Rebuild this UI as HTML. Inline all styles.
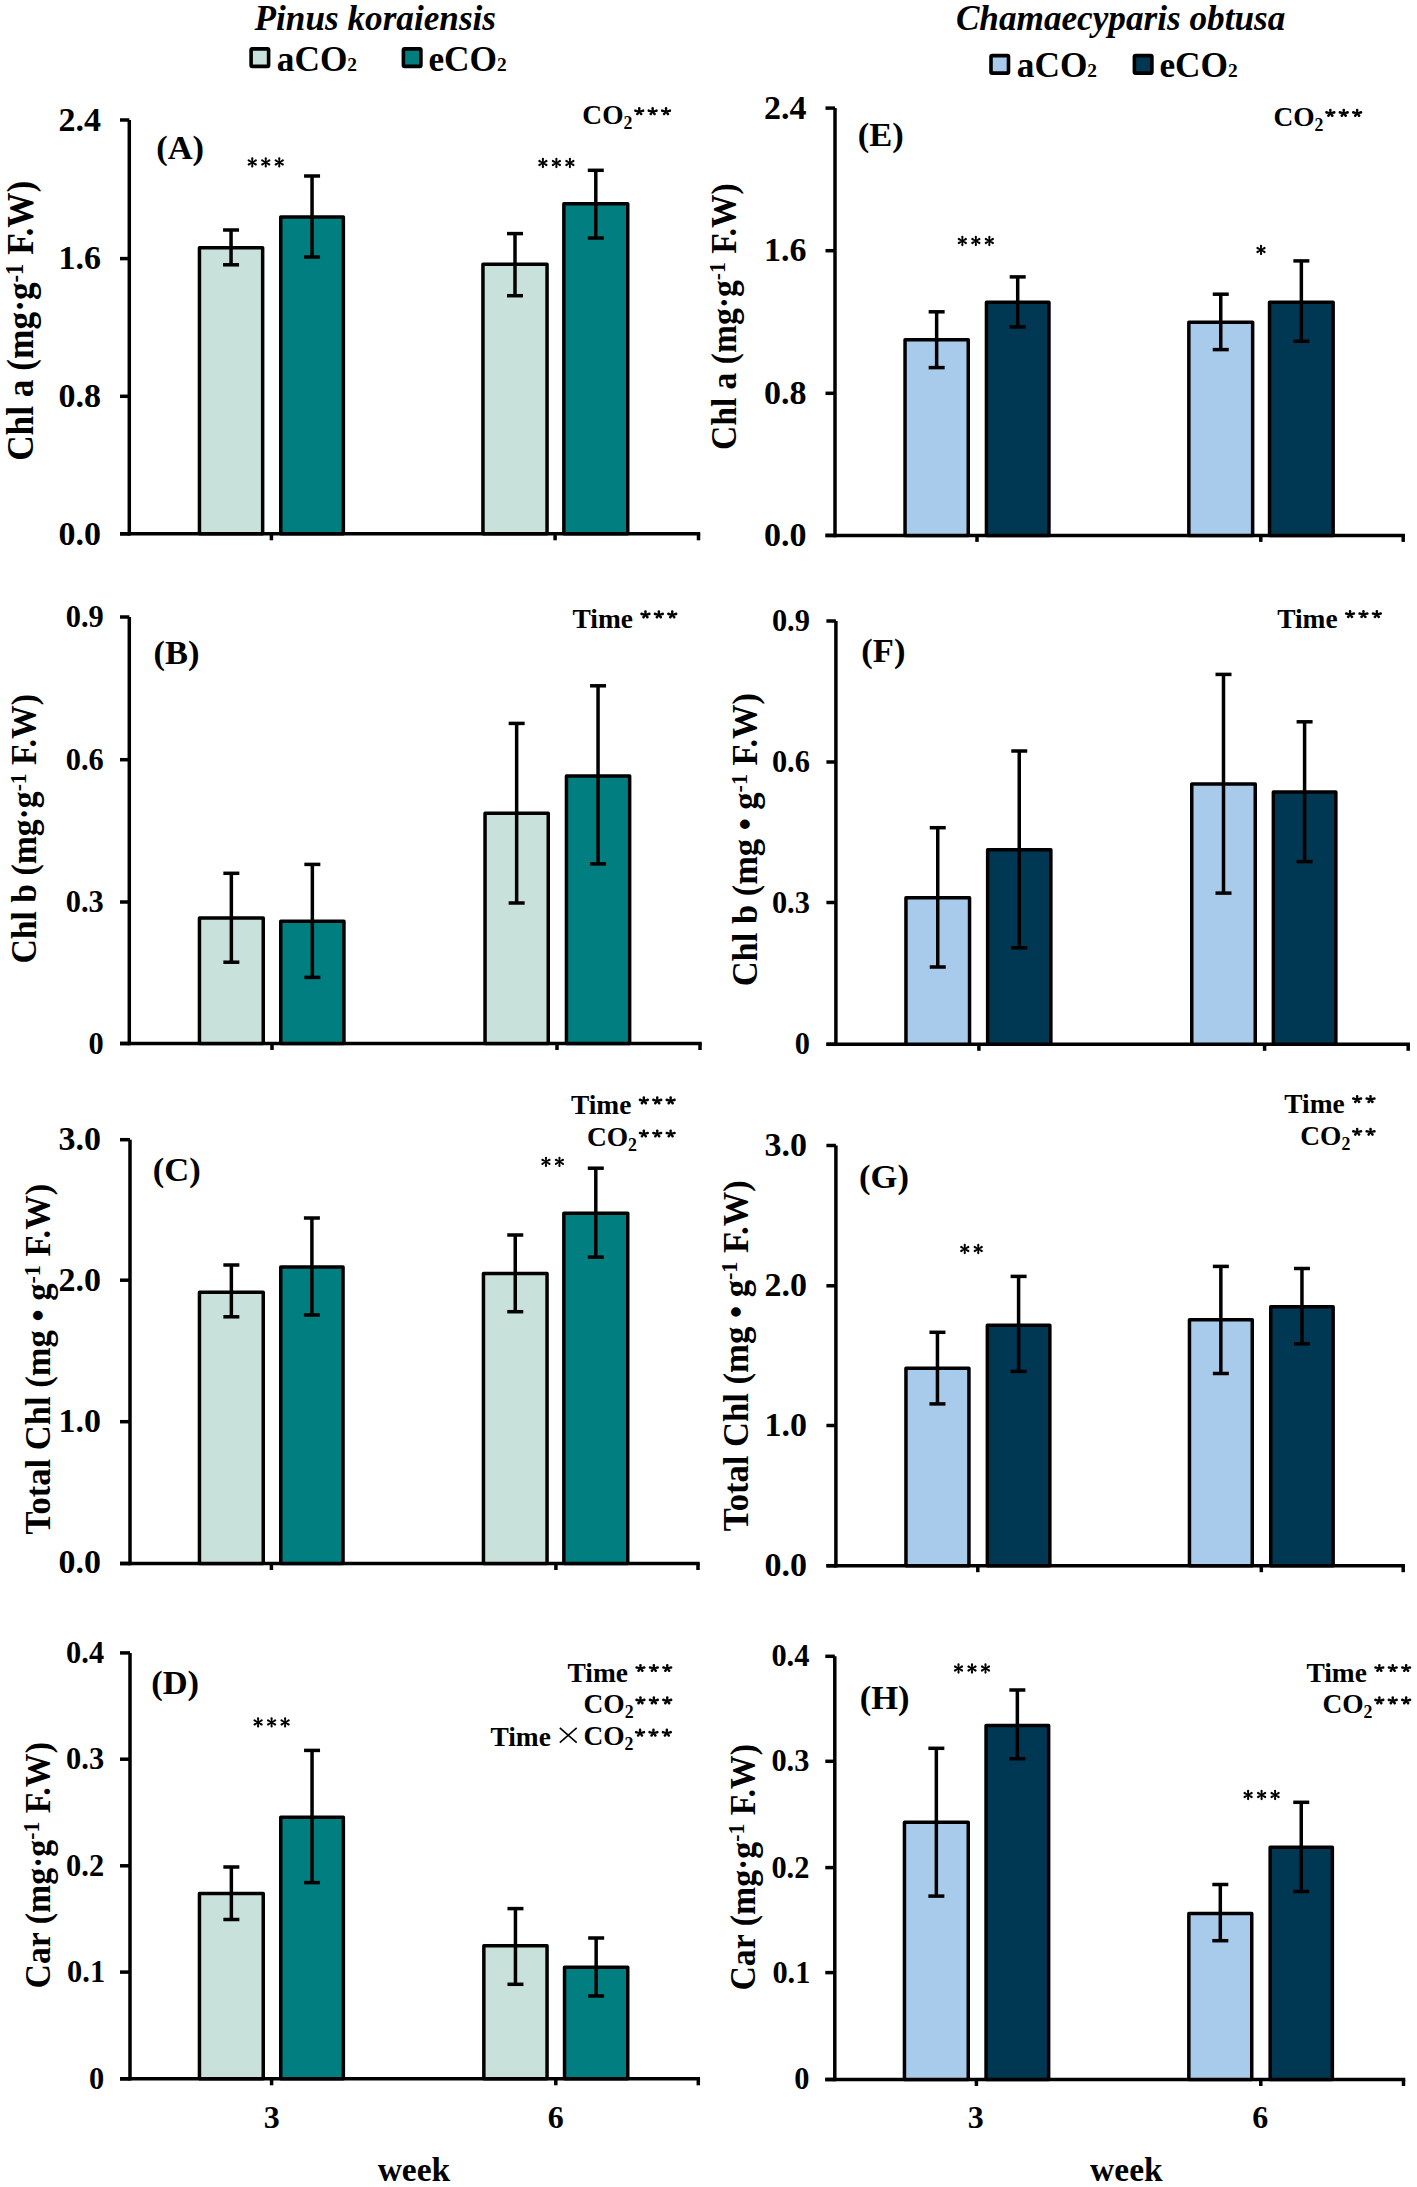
<!DOCTYPE html>
<html><head><meta charset="utf-8"><style>
html,body{margin:0;padding:0;background:#fff;}
svg{display:block;}
text{font-family:"Liberation Serif",serif;fill:#000;}
</style></head><body>
<svg width="1417" height="2187" viewBox="0 0 1417 2187">
<rect width="1417" height="2187" fill="#fff"/>
<line x1="129.30" y1="120.00" x2="129.30" y2="535.55" stroke="#000" stroke-width="3.5"/>
<line x1="120.00" y1="120.00" x2="129.30" y2="120.00" stroke="#000" stroke-width="3.5"/>
<line x1="120.00" y1="258.60" x2="129.30" y2="258.60" stroke="#000" stroke-width="3.5"/>
<line x1="120.00" y1="396.30" x2="129.30" y2="396.30" stroke="#000" stroke-width="3.5"/>
<line x1="120.00" y1="533.80" x2="129.30" y2="533.80" stroke="#000" stroke-width="3.5"/>
<line x1="120.00" y1="533.80" x2="700.25" y2="533.80" stroke="#000" stroke-width="3.5"/>
<line x1="698.50" y1="533.80" x2="698.50" y2="540.30" stroke="#000" stroke-width="3.5"/>
<line x1="271.40" y1="533.80" x2="271.40" y2="540.30" stroke="#000" stroke-width="3.5"/>
<line x1="555.10" y1="533.80" x2="555.10" y2="540.30" stroke="#000" stroke-width="3.5"/>
<rect x="199.45" y="247.65" width="63.20" height="286.15" fill="#C8E2DB" stroke="#000" stroke-width="3.5" stroke-linejoin="round"/>
<rect x="280.75" y="216.95" width="62.60" height="316.85" fill="#017F80" stroke="#000" stroke-width="3.5" stroke-linejoin="round"/>
<rect x="482.95" y="264.25" width="64.10" height="269.55" fill="#C8E2DB" stroke="#000" stroke-width="3.5" stroke-linejoin="round"/>
<rect x="563.85" y="203.75" width="63.90" height="330.05" fill="#017F80" stroke="#000" stroke-width="3.5" stroke-linejoin="round"/>
<line x1="231.05" y1="230.00" x2="231.05" y2="264.80" stroke="#000" stroke-width="3.5"/>
<line x1="223.05" y1="230.00" x2="239.05" y2="230.00" stroke="#000" stroke-width="3.5"/>
<line x1="223.05" y1="264.80" x2="239.05" y2="264.80" stroke="#000" stroke-width="3.5"/>
<line x1="312.05" y1="176.00" x2="312.05" y2="257.00" stroke="#000" stroke-width="3.5"/>
<line x1="304.05" y1="176.00" x2="320.05" y2="176.00" stroke="#000" stroke-width="3.5"/>
<line x1="304.05" y1="257.00" x2="320.05" y2="257.00" stroke="#000" stroke-width="3.5"/>
<line x1="515.00" y1="233.60" x2="515.00" y2="295.70" stroke="#000" stroke-width="3.5"/>
<line x1="507.00" y1="233.60" x2="523.00" y2="233.60" stroke="#000" stroke-width="3.5"/>
<line x1="507.00" y1="295.70" x2="523.00" y2="295.70" stroke="#000" stroke-width="3.5"/>
<line x1="595.80" y1="170.30" x2="595.80" y2="238.00" stroke="#000" stroke-width="3.5"/>
<line x1="587.80" y1="170.30" x2="603.80" y2="170.30" stroke="#000" stroke-width="3.5"/>
<line x1="587.80" y1="238.00" x2="603.80" y2="238.00" stroke="#000" stroke-width="3.5"/>
<line x1="129.30" y1="617.00" x2="129.30" y2="1045.25" stroke="#000" stroke-width="3.5"/>
<line x1="120.00" y1="617.00" x2="129.30" y2="617.00" stroke="#000" stroke-width="3.5"/>
<line x1="120.00" y1="759.70" x2="129.30" y2="759.70" stroke="#000" stroke-width="3.5"/>
<line x1="120.00" y1="902.00" x2="129.30" y2="902.00" stroke="#000" stroke-width="3.5"/>
<line x1="120.00" y1="1043.50" x2="129.30" y2="1043.50" stroke="#000" stroke-width="3.5"/>
<line x1="120.00" y1="1043.50" x2="701.75" y2="1043.50" stroke="#000" stroke-width="3.5"/>
<line x1="700.00" y1="1043.50" x2="700.00" y2="1050.00" stroke="#000" stroke-width="3.5"/>
<line x1="272.00" y1="1043.50" x2="272.00" y2="1050.00" stroke="#000" stroke-width="3.5"/>
<line x1="557.00" y1="1043.50" x2="557.00" y2="1050.00" stroke="#000" stroke-width="3.5"/>
<rect x="199.45" y="918.05" width="63.80" height="125.45" fill="#C8E2DB" stroke="#000" stroke-width="3.5" stroke-linejoin="round"/>
<rect x="280.75" y="921.25" width="63.20" height="122.25" fill="#017F80" stroke="#000" stroke-width="3.5" stroke-linejoin="round"/>
<rect x="485.05" y="813.25" width="63.20" height="230.25" fill="#C8E2DB" stroke="#000" stroke-width="3.5" stroke-linejoin="round"/>
<rect x="566.45" y="775.95" width="63.20" height="267.55" fill="#017F80" stroke="#000" stroke-width="3.5" stroke-linejoin="round"/>
<line x1="231.35" y1="873.30" x2="231.35" y2="962.20" stroke="#000" stroke-width="3.5"/>
<line x1="223.35" y1="873.30" x2="239.35" y2="873.30" stroke="#000" stroke-width="3.5"/>
<line x1="223.35" y1="962.20" x2="239.35" y2="962.20" stroke="#000" stroke-width="3.5"/>
<line x1="312.35" y1="864.40" x2="312.35" y2="977.40" stroke="#000" stroke-width="3.5"/>
<line x1="304.35" y1="864.40" x2="320.35" y2="864.40" stroke="#000" stroke-width="3.5"/>
<line x1="304.35" y1="977.40" x2="320.35" y2="977.40" stroke="#000" stroke-width="3.5"/>
<line x1="516.65" y1="723.40" x2="516.65" y2="903.00" stroke="#000" stroke-width="3.5"/>
<line x1="508.65" y1="723.40" x2="524.65" y2="723.40" stroke="#000" stroke-width="3.5"/>
<line x1="508.65" y1="903.00" x2="524.65" y2="903.00" stroke="#000" stroke-width="3.5"/>
<line x1="598.05" y1="685.80" x2="598.05" y2="863.90" stroke="#000" stroke-width="3.5"/>
<line x1="590.05" y1="685.80" x2="606.05" y2="685.80" stroke="#000" stroke-width="3.5"/>
<line x1="590.05" y1="863.90" x2="606.05" y2="863.90" stroke="#000" stroke-width="3.5"/>
<line x1="130.00" y1="1139.70" x2="130.00" y2="1565.25" stroke="#000" stroke-width="3.5"/>
<line x1="120.00" y1="1139.70" x2="130.00" y2="1139.70" stroke="#000" stroke-width="3.5"/>
<line x1="120.00" y1="1280.20" x2="130.00" y2="1280.20" stroke="#000" stroke-width="3.5"/>
<line x1="120.00" y1="1421.70" x2="130.00" y2="1421.70" stroke="#000" stroke-width="3.5"/>
<line x1="120.00" y1="1563.50" x2="130.00" y2="1563.50" stroke="#000" stroke-width="3.5"/>
<line x1="120.00" y1="1563.50" x2="699.75" y2="1563.50" stroke="#000" stroke-width="3.5"/>
<line x1="698.00" y1="1563.50" x2="698.00" y2="1570.00" stroke="#000" stroke-width="3.5"/>
<line x1="271.40" y1="1563.50" x2="271.40" y2="1570.00" stroke="#000" stroke-width="3.5"/>
<line x1="555.90" y1="1563.50" x2="555.90" y2="1570.00" stroke="#000" stroke-width="3.5"/>
<rect x="199.45" y="1292.15" width="63.80" height="271.35" fill="#C8E2DB" stroke="#000" stroke-width="3.5" stroke-linejoin="round"/>
<rect x="280.75" y="1266.95" width="62.30" height="296.55" fill="#017F80" stroke="#000" stroke-width="3.5" stroke-linejoin="round"/>
<rect x="483.45" y="1273.55" width="63.60" height="289.95" fill="#C8E2DB" stroke="#000" stroke-width="3.5" stroke-linejoin="round"/>
<rect x="563.85" y="1213.35" width="63.90" height="350.15" fill="#017F80" stroke="#000" stroke-width="3.5" stroke-linejoin="round"/>
<line x1="231.35" y1="1265.00" x2="231.35" y2="1316.80" stroke="#000" stroke-width="3.5"/>
<line x1="223.35" y1="1265.00" x2="239.35" y2="1265.00" stroke="#000" stroke-width="3.5"/>
<line x1="223.35" y1="1316.80" x2="239.35" y2="1316.80" stroke="#000" stroke-width="3.5"/>
<line x1="311.90" y1="1218.00" x2="311.90" y2="1315.00" stroke="#000" stroke-width="3.5"/>
<line x1="303.90" y1="1218.00" x2="319.90" y2="1218.00" stroke="#000" stroke-width="3.5"/>
<line x1="303.90" y1="1315.00" x2="319.90" y2="1315.00" stroke="#000" stroke-width="3.5"/>
<line x1="515.25" y1="1235.00" x2="515.25" y2="1311.70" stroke="#000" stroke-width="3.5"/>
<line x1="507.25" y1="1235.00" x2="523.25" y2="1235.00" stroke="#000" stroke-width="3.5"/>
<line x1="507.25" y1="1311.70" x2="523.25" y2="1311.70" stroke="#000" stroke-width="3.5"/>
<line x1="595.80" y1="1168.20" x2="595.80" y2="1257.10" stroke="#000" stroke-width="3.5"/>
<line x1="587.80" y1="1168.20" x2="603.80" y2="1168.20" stroke="#000" stroke-width="3.5"/>
<line x1="587.80" y1="1257.10" x2="603.80" y2="1257.10" stroke="#000" stroke-width="3.5"/>
<line x1="130.00" y1="1652.90" x2="130.00" y2="2080.55" stroke="#000" stroke-width="3.5"/>
<line x1="120.00" y1="1652.90" x2="130.00" y2="1652.90" stroke="#000" stroke-width="3.5"/>
<line x1="120.00" y1="1759.20" x2="130.00" y2="1759.20" stroke="#000" stroke-width="3.5"/>
<line x1="120.00" y1="1865.80" x2="130.00" y2="1865.80" stroke="#000" stroke-width="3.5"/>
<line x1="120.00" y1="1972.10" x2="130.00" y2="1972.10" stroke="#000" stroke-width="3.5"/>
<line x1="120.00" y1="2078.80" x2="130.00" y2="2078.80" stroke="#000" stroke-width="3.5"/>
<line x1="120.00" y1="2078.80" x2="700.05" y2="2078.80" stroke="#000" stroke-width="3.5"/>
<line x1="698.30" y1="2078.80" x2="698.30" y2="2085.30" stroke="#000" stroke-width="3.5"/>
<line x1="271.60" y1="2078.80" x2="271.60" y2="2085.30" stroke="#000" stroke-width="3.5"/>
<line x1="555.80" y1="2078.80" x2="555.80" y2="2085.30" stroke="#000" stroke-width="3.5"/>
<rect x="199.45" y="1893.45" width="63.80" height="185.35" fill="#C8E2DB" stroke="#000" stroke-width="3.5" stroke-linejoin="round"/>
<rect x="280.75" y="1817.15" width="62.60" height="261.65" fill="#017F80" stroke="#000" stroke-width="3.5" stroke-linejoin="round"/>
<rect x="483.85" y="1945.85" width="63.20" height="132.95" fill="#C8E2DB" stroke="#000" stroke-width="3.5" stroke-linejoin="round"/>
<rect x="564.55" y="1967.25" width="63.20" height="111.55" fill="#017F80" stroke="#000" stroke-width="3.5" stroke-linejoin="round"/>
<line x1="231.35" y1="1867.00" x2="231.35" y2="1919.50" stroke="#000" stroke-width="3.5"/>
<line x1="223.35" y1="1867.00" x2="239.35" y2="1867.00" stroke="#000" stroke-width="3.5"/>
<line x1="223.35" y1="1919.50" x2="239.35" y2="1919.50" stroke="#000" stroke-width="3.5"/>
<line x1="312.05" y1="1750.40" x2="312.05" y2="1882.60" stroke="#000" stroke-width="3.5"/>
<line x1="304.05" y1="1750.40" x2="320.05" y2="1750.40" stroke="#000" stroke-width="3.5"/>
<line x1="304.05" y1="1882.60" x2="320.05" y2="1882.60" stroke="#000" stroke-width="3.5"/>
<line x1="515.45" y1="1908.60" x2="515.45" y2="1984.30" stroke="#000" stroke-width="3.5"/>
<line x1="507.45" y1="1908.60" x2="523.45" y2="1908.60" stroke="#000" stroke-width="3.5"/>
<line x1="507.45" y1="1984.30" x2="523.45" y2="1984.30" stroke="#000" stroke-width="3.5"/>
<line x1="596.15" y1="1938.00" x2="596.15" y2="1996.00" stroke="#000" stroke-width="3.5"/>
<line x1="588.15" y1="1938.00" x2="604.15" y2="1938.00" stroke="#000" stroke-width="3.5"/>
<line x1="588.15" y1="1996.00" x2="604.15" y2="1996.00" stroke="#000" stroke-width="3.5"/>
<line x1="835.00" y1="108.10" x2="835.00" y2="537.15" stroke="#000" stroke-width="3.5"/>
<line x1="825.50" y1="108.10" x2="835.00" y2="108.10" stroke="#000" stroke-width="3.5"/>
<line x1="825.50" y1="250.70" x2="835.00" y2="250.70" stroke="#000" stroke-width="3.5"/>
<line x1="825.50" y1="393.30" x2="835.00" y2="393.30" stroke="#000" stroke-width="3.5"/>
<line x1="825.50" y1="535.40" x2="835.00" y2="535.40" stroke="#000" stroke-width="3.5"/>
<line x1="825.50" y1="535.40" x2="1404.95" y2="535.40" stroke="#000" stroke-width="3.5"/>
<line x1="1403.20" y1="535.40" x2="1403.20" y2="541.90" stroke="#000" stroke-width="3.5"/>
<line x1="977.00" y1="535.40" x2="977.00" y2="541.90" stroke="#000" stroke-width="3.5"/>
<line x1="1260.80" y1="535.40" x2="1260.80" y2="541.90" stroke="#000" stroke-width="3.5"/>
<rect x="905.05" y="339.75" width="63.20" height="195.65" fill="#A8CAEB" stroke="#000" stroke-width="3.5" stroke-linejoin="round"/>
<rect x="986.45" y="302.15" width="62.50" height="233.25" fill="#003753" stroke="#000" stroke-width="3.5" stroke-linejoin="round"/>
<rect x="1188.85" y="322.35" width="63.80" height="213.05" fill="#A8CAEB" stroke="#000" stroke-width="3.5" stroke-linejoin="round"/>
<rect x="1269.55" y="302.25" width="63.60" height="233.15" fill="#003753" stroke="#000" stroke-width="3.5" stroke-linejoin="round"/>
<line x1="936.65" y1="311.80" x2="936.65" y2="367.60" stroke="#000" stroke-width="3.5"/>
<line x1="928.65" y1="311.80" x2="944.65" y2="311.80" stroke="#000" stroke-width="3.5"/>
<line x1="928.65" y1="367.60" x2="944.65" y2="367.60" stroke="#000" stroke-width="3.5"/>
<line x1="1017.70" y1="276.90" x2="1017.70" y2="326.90" stroke="#000" stroke-width="3.5"/>
<line x1="1009.70" y1="276.90" x2="1025.70" y2="276.90" stroke="#000" stroke-width="3.5"/>
<line x1="1009.70" y1="326.90" x2="1025.70" y2="326.90" stroke="#000" stroke-width="3.5"/>
<line x1="1220.75" y1="294.20" x2="1220.75" y2="349.60" stroke="#000" stroke-width="3.5"/>
<line x1="1212.75" y1="294.20" x2="1228.75" y2="294.20" stroke="#000" stroke-width="3.5"/>
<line x1="1212.75" y1="349.60" x2="1228.75" y2="349.60" stroke="#000" stroke-width="3.5"/>
<line x1="1301.35" y1="260.90" x2="1301.35" y2="341.30" stroke="#000" stroke-width="3.5"/>
<line x1="1293.35" y1="260.90" x2="1309.35" y2="260.90" stroke="#000" stroke-width="3.5"/>
<line x1="1293.35" y1="341.30" x2="1309.35" y2="341.30" stroke="#000" stroke-width="3.5"/>
<line x1="835.90" y1="621.00" x2="835.90" y2="1046.05" stroke="#000" stroke-width="3.5"/>
<line x1="826.40" y1="621.00" x2="835.90" y2="621.00" stroke="#000" stroke-width="3.5"/>
<line x1="826.40" y1="762.00" x2="835.90" y2="762.00" stroke="#000" stroke-width="3.5"/>
<line x1="826.40" y1="902.50" x2="835.90" y2="902.50" stroke="#000" stroke-width="3.5"/>
<line x1="826.40" y1="1044.30" x2="835.90" y2="1044.30" stroke="#000" stroke-width="3.5"/>
<line x1="826.40" y1="1044.30" x2="1409.95" y2="1044.30" stroke="#000" stroke-width="3.5"/>
<line x1="1408.20" y1="1044.30" x2="1408.20" y2="1050.80" stroke="#000" stroke-width="3.5"/>
<line x1="978.90" y1="1044.30" x2="978.90" y2="1050.80" stroke="#000" stroke-width="3.5"/>
<line x1="1264.60" y1="1044.30" x2="1264.60" y2="1050.80" stroke="#000" stroke-width="3.5"/>
<rect x="905.95" y="897.75" width="63.60" height="146.55" fill="#A8CAEB" stroke="#000" stroke-width="3.5" stroke-linejoin="round"/>
<rect x="987.65" y="849.75" width="63.20" height="194.55" fill="#003753" stroke="#000" stroke-width="3.5" stroke-linejoin="round"/>
<rect x="1191.75" y="783.95" width="63.50" height="260.35" fill="#A8CAEB" stroke="#000" stroke-width="3.5" stroke-linejoin="round"/>
<rect x="1273.35" y="792.05" width="62.50" height="252.25" fill="#003753" stroke="#000" stroke-width="3.5" stroke-linejoin="round"/>
<line x1="937.75" y1="827.70" x2="937.75" y2="967.00" stroke="#000" stroke-width="3.5"/>
<line x1="929.75" y1="827.70" x2="945.75" y2="827.70" stroke="#000" stroke-width="3.5"/>
<line x1="929.75" y1="967.00" x2="945.75" y2="967.00" stroke="#000" stroke-width="3.5"/>
<line x1="1019.25" y1="751.00" x2="1019.25" y2="947.80" stroke="#000" stroke-width="3.5"/>
<line x1="1011.25" y1="751.00" x2="1027.25" y2="751.00" stroke="#000" stroke-width="3.5"/>
<line x1="1011.25" y1="947.80" x2="1027.25" y2="947.80" stroke="#000" stroke-width="3.5"/>
<line x1="1223.50" y1="674.40" x2="1223.50" y2="893.10" stroke="#000" stroke-width="3.5"/>
<line x1="1215.50" y1="674.40" x2="1231.50" y2="674.40" stroke="#000" stroke-width="3.5"/>
<line x1="1215.50" y1="893.10" x2="1231.50" y2="893.10" stroke="#000" stroke-width="3.5"/>
<line x1="1304.60" y1="721.80" x2="1304.60" y2="861.60" stroke="#000" stroke-width="3.5"/>
<line x1="1296.60" y1="721.80" x2="1312.60" y2="721.80" stroke="#000" stroke-width="3.5"/>
<line x1="1296.60" y1="861.60" x2="1312.60" y2="861.60" stroke="#000" stroke-width="3.5"/>
<line x1="835.90" y1="1145.50" x2="835.90" y2="1567.45" stroke="#000" stroke-width="3.5"/>
<line x1="826.40" y1="1145.50" x2="835.90" y2="1145.50" stroke="#000" stroke-width="3.5"/>
<line x1="826.40" y1="1285.80" x2="835.90" y2="1285.80" stroke="#000" stroke-width="3.5"/>
<line x1="826.40" y1="1425.50" x2="835.90" y2="1425.50" stroke="#000" stroke-width="3.5"/>
<line x1="826.40" y1="1565.70" x2="835.90" y2="1565.70" stroke="#000" stroke-width="3.5"/>
<line x1="826.40" y1="1565.70" x2="1404.95" y2="1565.70" stroke="#000" stroke-width="3.5"/>
<line x1="1403.20" y1="1565.70" x2="1403.20" y2="1572.20" stroke="#000" stroke-width="3.5"/>
<line x1="977.80" y1="1565.70" x2="977.80" y2="1572.20" stroke="#000" stroke-width="3.5"/>
<line x1="1261.30" y1="1565.70" x2="1261.30" y2="1572.20" stroke="#000" stroke-width="3.5"/>
<rect x="905.95" y="1368.35" width="63.00" height="197.35" fill="#A8CAEB" stroke="#000" stroke-width="3.5" stroke-linejoin="round"/>
<rect x="987.35" y="1325.15" width="62.50" height="240.55" fill="#003753" stroke="#000" stroke-width="3.5" stroke-linejoin="round"/>
<rect x="1189.45" y="1319.85" width="62.80" height="245.85" fill="#A8CAEB" stroke="#000" stroke-width="3.5" stroke-linejoin="round"/>
<rect x="1270.75" y="1306.75" width="62.40" height="258.95" fill="#003753" stroke="#000" stroke-width="3.5" stroke-linejoin="round"/>
<line x1="937.45" y1="1332.30" x2="937.45" y2="1403.90" stroke="#000" stroke-width="3.5"/>
<line x1="929.45" y1="1332.30" x2="945.45" y2="1332.30" stroke="#000" stroke-width="3.5"/>
<line x1="929.45" y1="1403.90" x2="945.45" y2="1403.90" stroke="#000" stroke-width="3.5"/>
<line x1="1018.60" y1="1276.40" x2="1018.60" y2="1371.40" stroke="#000" stroke-width="3.5"/>
<line x1="1010.60" y1="1276.40" x2="1026.60" y2="1276.40" stroke="#000" stroke-width="3.5"/>
<line x1="1010.60" y1="1371.40" x2="1026.60" y2="1371.40" stroke="#000" stroke-width="3.5"/>
<line x1="1220.85" y1="1266.40" x2="1220.85" y2="1373.50" stroke="#000" stroke-width="3.5"/>
<line x1="1212.85" y1="1266.40" x2="1228.85" y2="1266.40" stroke="#000" stroke-width="3.5"/>
<line x1="1212.85" y1="1373.50" x2="1228.85" y2="1373.50" stroke="#000" stroke-width="3.5"/>
<line x1="1301.95" y1="1268.50" x2="1301.95" y2="1343.80" stroke="#000" stroke-width="3.5"/>
<line x1="1293.95" y1="1268.50" x2="1309.95" y2="1268.50" stroke="#000" stroke-width="3.5"/>
<line x1="1293.95" y1="1343.80" x2="1309.95" y2="1343.80" stroke="#000" stroke-width="3.5"/>
<line x1="834.80" y1="1656.30" x2="834.80" y2="2081.25" stroke="#000" stroke-width="3.5"/>
<line x1="825.30" y1="1656.30" x2="834.80" y2="1656.30" stroke="#000" stroke-width="3.5"/>
<line x1="825.30" y1="1761.30" x2="834.80" y2="1761.30" stroke="#000" stroke-width="3.5"/>
<line x1="825.30" y1="1867.60" x2="834.80" y2="1867.60" stroke="#000" stroke-width="3.5"/>
<line x1="825.30" y1="1972.60" x2="834.80" y2="1972.60" stroke="#000" stroke-width="3.5"/>
<line x1="825.30" y1="2079.50" x2="834.80" y2="2079.50" stroke="#000" stroke-width="3.5"/>
<line x1="825.30" y1="2079.50" x2="1405.25" y2="2079.50" stroke="#000" stroke-width="3.5"/>
<line x1="1403.50" y1="2079.50" x2="1403.50" y2="2086.00" stroke="#000" stroke-width="3.5"/>
<line x1="976.40" y1="2079.50" x2="976.40" y2="2086.00" stroke="#000" stroke-width="3.5"/>
<line x1="1260.80" y1="2079.50" x2="1260.80" y2="2086.00" stroke="#000" stroke-width="3.5"/>
<rect x="904.45" y="1822.15" width="63.80" height="257.35" fill="#A8CAEB" stroke="#000" stroke-width="3.5" stroke-linejoin="round"/>
<rect x="986.05" y="1725.45" width="62.60" height="354.05" fill="#003753" stroke="#000" stroke-width="3.5" stroke-linejoin="round"/>
<rect x="1188.85" y="1913.45" width="62.90" height="166.05" fill="#A8CAEB" stroke="#000" stroke-width="3.5" stroke-linejoin="round"/>
<rect x="1270.15" y="1847.15" width="62.20" height="232.35" fill="#003753" stroke="#000" stroke-width="3.5" stroke-linejoin="round"/>
<line x1="936.35" y1="1748.30" x2="936.35" y2="1896.10" stroke="#000" stroke-width="3.5"/>
<line x1="928.35" y1="1748.30" x2="944.35" y2="1748.30" stroke="#000" stroke-width="3.5"/>
<line x1="928.35" y1="1896.10" x2="944.35" y2="1896.10" stroke="#000" stroke-width="3.5"/>
<line x1="1017.35" y1="1690.00" x2="1017.35" y2="1758.70" stroke="#000" stroke-width="3.5"/>
<line x1="1009.35" y1="1690.00" x2="1025.35" y2="1690.00" stroke="#000" stroke-width="3.5"/>
<line x1="1009.35" y1="1758.70" x2="1025.35" y2="1758.70" stroke="#000" stroke-width="3.5"/>
<line x1="1220.30" y1="1884.50" x2="1220.30" y2="1940.70" stroke="#000" stroke-width="3.5"/>
<line x1="1212.30" y1="1884.50" x2="1228.30" y2="1884.50" stroke="#000" stroke-width="3.5"/>
<line x1="1212.30" y1="1940.70" x2="1228.30" y2="1940.70" stroke="#000" stroke-width="3.5"/>
<line x1="1301.25" y1="1802.30" x2="1301.25" y2="1891.50" stroke="#000" stroke-width="3.5"/>
<line x1="1293.25" y1="1802.30" x2="1309.25" y2="1802.30" stroke="#000" stroke-width="3.5"/>
<line x1="1293.25" y1="1891.50" x2="1309.25" y2="1891.50" stroke="#000" stroke-width="3.5"/>
<rect x="251.10" y="48.90" width="17.5" height="17.5" rx="1.2" fill="#C8E2DB" stroke="#000" stroke-width="3.6"/>
<rect x="403.40" y="48.90" width="17.5" height="17.5" rx="1.2" fill="#017F80" stroke="#000" stroke-width="3.6"/>
<rect x="991.00" y="55.60" width="17.5" height="17.5" rx="1.2" fill="#A8CAEB" stroke="#000" stroke-width="3.6"/>
<rect x="1134.40" y="55.60" width="17.5" height="17.5" rx="1.2" fill="#003753" stroke="#000" stroke-width="3.6"/>
<path d="M252.85,162.40 L253.35,158.30 A1.10,1.10 0 0 0 251.15,158.30 L251.65,162.40 Z M252.55,162.92 L256.35,161.30 A1.10,1.10 0 0 0 255.25,159.40 L251.95,161.88 Z M251.95,162.92 L255.25,165.40 A1.10,1.10 0 0 0 256.35,163.50 L252.55,161.88 Z M251.65,162.40 L251.15,166.50 A1.10,1.10 0 0 0 253.35,166.50 L252.85,162.40 Z M251.95,161.88 L248.15,163.50 A1.10,1.10 0 0 0 249.25,165.40 L252.55,162.92 Z M252.55,161.88 L249.25,159.40 A1.10,1.10 0 0 0 248.15,161.30 L251.95,162.92 Z M266.35,162.40 L266.85,158.30 A1.10,1.10 0 0 0 264.65,158.30 L265.15,162.40 Z M266.05,162.92 L269.85,161.30 A1.10,1.10 0 0 0 268.75,159.40 L265.45,161.88 Z M265.45,162.92 L268.75,165.40 A1.10,1.10 0 0 0 269.85,163.50 L266.05,161.88 Z M265.15,162.40 L264.65,166.50 A1.10,1.10 0 0 0 266.85,166.50 L266.35,162.40 Z M265.45,161.88 L261.65,163.50 A1.10,1.10 0 0 0 262.75,165.40 L266.05,162.92 Z M266.05,161.88 L262.75,159.40 A1.10,1.10 0 0 0 261.65,161.30 L265.45,162.92 Z M279.85,162.40 L280.35,158.30 A1.10,1.10 0 0 0 278.15,158.30 L278.65,162.40 Z M279.55,162.92 L283.35,161.30 A1.10,1.10 0 0 0 282.25,159.40 L278.95,161.88 Z M278.95,162.92 L282.25,165.40 A1.10,1.10 0 0 0 283.35,163.50 L279.55,161.88 Z M278.65,162.40 L278.15,166.50 A1.10,1.10 0 0 0 280.35,166.50 L279.85,162.40 Z M278.95,161.88 L275.15,163.50 A1.10,1.10 0 0 0 276.25,165.40 L279.55,162.92 Z M279.55,161.88 L276.25,159.40 A1.10,1.10 0 0 0 275.15,161.30 L278.95,162.92 Z M543.50,163.00 L544.00,158.90 A1.10,1.10 0 0 0 541.80,158.90 L542.30,163.00 Z M543.20,163.52 L547.00,161.90 A1.10,1.10 0 0 0 545.90,160.00 L542.60,162.48 Z M542.60,163.52 L545.90,166.00 A1.10,1.10 0 0 0 547.00,164.10 L543.20,162.48 Z M542.30,163.00 L541.80,167.10 A1.10,1.10 0 0 0 544.00,167.10 L543.50,163.00 Z M542.60,162.48 L538.80,164.10 A1.10,1.10 0 0 0 539.90,166.00 L543.20,163.52 Z M543.20,162.48 L539.90,160.00 A1.10,1.10 0 0 0 538.80,161.90 L542.60,163.52 Z M557.00,163.00 L557.50,158.90 A1.10,1.10 0 0 0 555.30,158.90 L555.80,163.00 Z M556.70,163.52 L560.50,161.90 A1.10,1.10 0 0 0 559.40,160.00 L556.10,162.48 Z M556.10,163.52 L559.40,166.00 A1.10,1.10 0 0 0 560.50,164.10 L556.70,162.48 Z M555.80,163.00 L555.30,167.10 A1.10,1.10 0 0 0 557.50,167.10 L557.00,163.00 Z M556.10,162.48 L552.30,164.10 A1.10,1.10 0 0 0 553.40,166.00 L556.70,163.52 Z M556.70,162.48 L553.40,160.00 A1.10,1.10 0 0 0 552.30,161.90 L556.10,163.52 Z M570.50,163.00 L571.00,158.90 A1.10,1.10 0 0 0 568.80,158.90 L569.30,163.00 Z M570.20,163.52 L574.00,161.90 A1.10,1.10 0 0 0 572.90,160.00 L569.60,162.48 Z M569.60,163.52 L572.90,166.00 A1.10,1.10 0 0 0 574.00,164.10 L570.20,162.48 Z M569.30,163.00 L568.80,167.10 A1.10,1.10 0 0 0 571.00,167.10 L570.50,163.00 Z M569.60,162.48 L565.80,164.10 A1.10,1.10 0 0 0 566.90,166.00 L570.20,163.52 Z M570.20,162.48 L566.90,160.00 A1.10,1.10 0 0 0 565.80,161.90 L569.60,163.52 Z M546.55,1161.85 L547.05,1157.75 A1.10,1.10 0 0 0 544.85,1157.75 L545.35,1161.85 Z M546.25,1162.37 L550.05,1160.75 A1.10,1.10 0 0 0 548.95,1158.85 L545.65,1161.33 Z M545.65,1162.37 L548.95,1164.85 A1.10,1.10 0 0 0 550.05,1162.95 L546.25,1161.33 Z M545.35,1161.85 L544.85,1165.95 A1.10,1.10 0 0 0 547.05,1165.95 L546.55,1161.85 Z M545.65,1161.33 L541.85,1162.95 A1.10,1.10 0 0 0 542.95,1164.85 L546.25,1162.37 Z M546.25,1161.33 L542.95,1158.85 A1.10,1.10 0 0 0 541.85,1160.75 L545.65,1162.37 Z M560.05,1161.85 L560.55,1157.75 A1.10,1.10 0 0 0 558.35,1157.75 L558.85,1161.85 Z M559.75,1162.37 L563.55,1160.75 A1.10,1.10 0 0 0 562.45,1158.85 L559.15,1161.33 Z M559.15,1162.37 L562.45,1164.85 A1.10,1.10 0 0 0 563.55,1162.95 L559.75,1161.33 Z M558.85,1161.85 L558.35,1165.95 A1.10,1.10 0 0 0 560.55,1165.95 L560.05,1161.85 Z M559.15,1161.33 L555.35,1162.95 A1.10,1.10 0 0 0 556.45,1164.85 L559.75,1162.37 Z M559.75,1161.33 L556.45,1158.85 A1.10,1.10 0 0 0 555.35,1160.75 L559.15,1162.37 Z M258.70,1722.40 L259.20,1718.30 A1.10,1.10 0 0 0 257.00,1718.30 L257.50,1722.40 Z M258.40,1722.92 L262.20,1721.30 A1.10,1.10 0 0 0 261.10,1719.40 L257.80,1721.88 Z M257.80,1722.92 L261.10,1725.40 A1.10,1.10 0 0 0 262.20,1723.50 L258.40,1721.88 Z M257.50,1722.40 L257.00,1726.50 A1.10,1.10 0 0 0 259.20,1726.50 L258.70,1722.40 Z M257.80,1721.88 L254.00,1723.50 A1.10,1.10 0 0 0 255.10,1725.40 L258.40,1722.92 Z M258.40,1721.88 L255.10,1719.40 A1.10,1.10 0 0 0 254.00,1721.30 L257.80,1722.92 Z M272.20,1722.40 L272.70,1718.30 A1.10,1.10 0 0 0 270.50,1718.30 L271.00,1722.40 Z M271.90,1722.92 L275.70,1721.30 A1.10,1.10 0 0 0 274.60,1719.40 L271.30,1721.88 Z M271.30,1722.92 L274.60,1725.40 A1.10,1.10 0 0 0 275.70,1723.50 L271.90,1721.88 Z M271.00,1722.40 L270.50,1726.50 A1.10,1.10 0 0 0 272.70,1726.50 L272.20,1722.40 Z M271.30,1721.88 L267.50,1723.50 A1.10,1.10 0 0 0 268.60,1725.40 L271.90,1722.92 Z M271.90,1721.88 L268.60,1719.40 A1.10,1.10 0 0 0 267.50,1721.30 L271.30,1722.92 Z M285.70,1722.40 L286.20,1718.30 A1.10,1.10 0 0 0 284.00,1718.30 L284.50,1722.40 Z M285.40,1722.92 L289.20,1721.30 A1.10,1.10 0 0 0 288.10,1719.40 L284.80,1721.88 Z M284.80,1722.92 L288.10,1725.40 A1.10,1.10 0 0 0 289.20,1723.50 L285.40,1721.88 Z M284.50,1722.40 L284.00,1726.50 A1.10,1.10 0 0 0 286.20,1726.50 L285.70,1722.40 Z M284.80,1721.88 L281.00,1723.50 A1.10,1.10 0 0 0 282.10,1725.40 L285.40,1722.92 Z M285.40,1721.88 L282.10,1719.40 A1.10,1.10 0 0 0 281.00,1721.30 L284.80,1722.92 Z M962.95,241.00 L963.45,236.90 A1.10,1.10 0 0 0 961.25,236.90 L961.75,241.00 Z M962.65,241.52 L966.45,239.90 A1.10,1.10 0 0 0 965.35,238.00 L962.05,240.48 Z M962.05,241.52 L965.35,244.00 A1.10,1.10 0 0 0 966.45,242.10 L962.65,240.48 Z M961.75,241.00 L961.25,245.10 A1.10,1.10 0 0 0 963.45,245.10 L962.95,241.00 Z M962.05,240.48 L958.25,242.10 A1.10,1.10 0 0 0 959.35,244.00 L962.65,241.52 Z M962.65,240.48 L959.35,238.00 A1.10,1.10 0 0 0 958.25,239.90 L962.05,241.52 Z M976.45,241.00 L976.95,236.90 A1.10,1.10 0 0 0 974.75,236.90 L975.25,241.00 Z M976.15,241.52 L979.95,239.90 A1.10,1.10 0 0 0 978.85,238.00 L975.55,240.48 Z M975.55,241.52 L978.85,244.00 A1.10,1.10 0 0 0 979.95,242.10 L976.15,240.48 Z M975.25,241.00 L974.75,245.10 A1.10,1.10 0 0 0 976.95,245.10 L976.45,241.00 Z M975.55,240.48 L971.75,242.10 A1.10,1.10 0 0 0 972.85,244.00 L976.15,241.52 Z M976.15,240.48 L972.85,238.00 A1.10,1.10 0 0 0 971.75,239.90 L975.55,241.52 Z M989.95,241.00 L990.45,236.90 A1.10,1.10 0 0 0 988.25,236.90 L988.75,241.00 Z M989.65,241.52 L993.45,239.90 A1.10,1.10 0 0 0 992.35,238.00 L989.05,240.48 Z M989.05,241.52 L992.35,244.00 A1.10,1.10 0 0 0 993.45,242.10 L989.65,240.48 Z M988.75,241.00 L988.25,245.10 A1.10,1.10 0 0 0 990.45,245.10 L989.95,241.00 Z M989.05,240.48 L985.25,242.10 A1.10,1.10 0 0 0 986.35,244.00 L989.65,241.52 Z M989.65,240.48 L986.35,238.00 A1.10,1.10 0 0 0 985.25,239.90 L989.05,241.52 Z M1261.60,250.00 L1262.10,245.90 A1.10,1.10 0 0 0 1259.90,245.90 L1260.40,250.00 Z M1261.30,250.52 L1265.10,248.90 A1.10,1.10 0 0 0 1264.00,247.00 L1260.70,249.48 Z M1260.70,250.52 L1264.00,253.00 A1.10,1.10 0 0 0 1265.10,251.10 L1261.30,249.48 Z M1260.40,250.00 L1259.90,254.10 A1.10,1.10 0 0 0 1262.10,254.10 L1261.60,250.00 Z M1260.70,249.48 L1256.90,251.10 A1.10,1.10 0 0 0 1258.00,253.00 L1261.30,250.52 Z M1261.30,249.48 L1258.00,247.00 A1.10,1.10 0 0 0 1256.90,248.90 L1260.70,250.52 Z M965.35,1249.00 L965.85,1244.90 A1.10,1.10 0 0 0 963.65,1244.90 L964.15,1249.00 Z M965.05,1249.52 L968.85,1247.90 A1.10,1.10 0 0 0 967.75,1246.00 L964.45,1248.48 Z M964.45,1249.52 L967.75,1252.00 A1.10,1.10 0 0 0 968.85,1250.10 L965.05,1248.48 Z M964.15,1249.00 L963.65,1253.10 A1.10,1.10 0 0 0 965.85,1253.10 L965.35,1249.00 Z M964.45,1248.48 L960.65,1250.10 A1.10,1.10 0 0 0 961.75,1252.00 L965.05,1249.52 Z M965.05,1248.48 L961.75,1246.00 A1.10,1.10 0 0 0 960.65,1247.90 L964.45,1249.52 Z M978.85,1249.00 L979.35,1244.90 A1.10,1.10 0 0 0 977.15,1244.90 L977.65,1249.00 Z M978.55,1249.52 L982.35,1247.90 A1.10,1.10 0 0 0 981.25,1246.00 L977.95,1248.48 Z M977.95,1249.52 L981.25,1252.00 A1.10,1.10 0 0 0 982.35,1250.10 L978.55,1248.48 Z M977.65,1249.00 L977.15,1253.10 A1.10,1.10 0 0 0 979.35,1253.10 L978.85,1249.00 Z M977.95,1248.48 L974.15,1250.10 A1.10,1.10 0 0 0 975.25,1252.00 L978.55,1249.52 Z M978.55,1248.48 L975.25,1246.00 A1.10,1.10 0 0 0 974.15,1247.90 L977.95,1249.52 Z M959.10,1668.50 L959.60,1664.40 A1.10,1.10 0 0 0 957.40,1664.40 L957.90,1668.50 Z M958.80,1669.02 L962.60,1667.40 A1.10,1.10 0 0 0 961.50,1665.50 L958.20,1667.98 Z M958.20,1669.02 L961.50,1671.50 A1.10,1.10 0 0 0 962.60,1669.60 L958.80,1667.98 Z M957.90,1668.50 L957.40,1672.60 A1.10,1.10 0 0 0 959.60,1672.60 L959.10,1668.50 Z M958.20,1667.98 L954.40,1669.60 A1.10,1.10 0 0 0 955.50,1671.50 L958.80,1669.02 Z M958.80,1667.98 L955.50,1665.50 A1.10,1.10 0 0 0 954.40,1667.40 L958.20,1669.02 Z M972.60,1668.50 L973.10,1664.40 A1.10,1.10 0 0 0 970.90,1664.40 L971.40,1668.50 Z M972.30,1669.02 L976.10,1667.40 A1.10,1.10 0 0 0 975.00,1665.50 L971.70,1667.98 Z M971.70,1669.02 L975.00,1671.50 A1.10,1.10 0 0 0 976.10,1669.60 L972.30,1667.98 Z M971.40,1668.50 L970.90,1672.60 A1.10,1.10 0 0 0 973.10,1672.60 L972.60,1668.50 Z M971.70,1667.98 L967.90,1669.60 A1.10,1.10 0 0 0 969.00,1671.50 L972.30,1669.02 Z M972.30,1667.98 L969.00,1665.50 A1.10,1.10 0 0 0 967.90,1667.40 L971.70,1669.02 Z M986.10,1668.50 L986.60,1664.40 A1.10,1.10 0 0 0 984.40,1664.40 L984.90,1668.50 Z M985.80,1669.02 L989.60,1667.40 A1.10,1.10 0 0 0 988.50,1665.50 L985.20,1667.98 Z M985.20,1669.02 L988.50,1671.50 A1.10,1.10 0 0 0 989.60,1669.60 L985.80,1667.98 Z M984.90,1668.50 L984.40,1672.60 A1.10,1.10 0 0 0 986.60,1672.60 L986.10,1668.50 Z M985.20,1667.98 L981.40,1669.60 A1.10,1.10 0 0 0 982.50,1671.50 L985.80,1669.02 Z M985.80,1667.98 L982.50,1665.50 A1.10,1.10 0 0 0 981.40,1667.40 L985.20,1669.02 Z M1248.70,1795.00 L1249.20,1790.90 A1.10,1.10 0 0 0 1247.00,1790.90 L1247.50,1795.00 Z M1248.40,1795.52 L1252.20,1793.90 A1.10,1.10 0 0 0 1251.10,1792.00 L1247.80,1794.48 Z M1247.80,1795.52 L1251.10,1798.00 A1.10,1.10 0 0 0 1252.20,1796.10 L1248.40,1794.48 Z M1247.50,1795.00 L1247.00,1799.10 A1.10,1.10 0 0 0 1249.20,1799.10 L1248.70,1795.00 Z M1247.80,1794.48 L1244.00,1796.10 A1.10,1.10 0 0 0 1245.10,1798.00 L1248.40,1795.52 Z M1248.40,1794.48 L1245.10,1792.00 A1.10,1.10 0 0 0 1244.00,1793.90 L1247.80,1795.52 Z M1262.20,1795.00 L1262.70,1790.90 A1.10,1.10 0 0 0 1260.50,1790.90 L1261.00,1795.00 Z M1261.90,1795.52 L1265.70,1793.90 A1.10,1.10 0 0 0 1264.60,1792.00 L1261.30,1794.48 Z M1261.30,1795.52 L1264.60,1798.00 A1.10,1.10 0 0 0 1265.70,1796.10 L1261.90,1794.48 Z M1261.00,1795.00 L1260.50,1799.10 A1.10,1.10 0 0 0 1262.70,1799.10 L1262.20,1795.00 Z M1261.30,1794.48 L1257.50,1796.10 A1.10,1.10 0 0 0 1258.60,1798.00 L1261.90,1795.52 Z M1261.90,1794.48 L1258.60,1792.00 A1.10,1.10 0 0 0 1257.50,1793.90 L1261.30,1795.52 Z M1275.70,1795.00 L1276.20,1790.90 A1.10,1.10 0 0 0 1274.00,1790.90 L1274.50,1795.00 Z M1275.40,1795.52 L1279.20,1793.90 A1.10,1.10 0 0 0 1278.10,1792.00 L1274.80,1794.48 Z M1274.80,1795.52 L1278.10,1798.00 A1.10,1.10 0 0 0 1279.20,1796.10 L1275.40,1794.48 Z M1274.50,1795.00 L1274.00,1799.10 A1.10,1.10 0 0 0 1276.20,1799.10 L1275.70,1795.00 Z M1274.80,1794.48 L1271.00,1796.10 A1.10,1.10 0 0 0 1272.10,1798.00 L1275.40,1795.52 Z M1275.40,1794.48 L1272.10,1792.00 A1.10,1.10 0 0 0 1271.00,1793.90 L1274.80,1795.52 Z M666.85,111.50 L667.35,108.40 A1.30,1.30 0 0 0 664.75,108.40 L665.25,111.50 Z M666.22,112.28 L670.23,111.94 A1.30,1.30 0 0 0 669.69,109.40 L665.88,110.72 Z M666.22,110.72 L662.41,109.40 A1.30,1.30 0 0 0 661.87,111.94 L665.88,112.28 Z M665.42,111.99 L666.93,114.74 A1.30,1.30 0 0 0 668.98,113.14 L666.68,111.01 Z M665.42,111.01 L663.12,113.14 A1.30,1.30 0 0 0 665.17,114.74 L666.68,111.99 Z M653.45,111.50 L653.95,108.40 A1.30,1.30 0 0 0 651.35,108.40 L651.85,111.50 Z M652.82,112.28 L656.83,111.94 A1.30,1.30 0 0 0 656.29,109.40 L652.48,110.72 Z M652.82,110.72 L649.01,109.40 A1.30,1.30 0 0 0 648.47,111.94 L652.48,112.28 Z M652.02,111.99 L653.53,114.74 A1.30,1.30 0 0 0 655.58,113.14 L653.28,111.01 Z M652.02,111.01 L649.72,113.14 A1.30,1.30 0 0 0 651.77,114.74 L653.28,111.99 Z M640.05,111.50 L640.55,108.40 A1.30,1.30 0 0 0 637.95,108.40 L638.45,111.50 Z M639.42,112.28 L643.43,111.94 A1.30,1.30 0 0 0 642.89,109.40 L639.08,110.72 Z M639.42,110.72 L635.61,109.40 A1.30,1.30 0 0 0 635.07,111.94 L639.08,112.28 Z M638.62,111.99 L640.13,114.74 A1.30,1.30 0 0 0 642.18,113.14 L639.88,111.01 Z M638.62,111.01 L636.32,113.14 A1.30,1.30 0 0 0 638.37,114.74 L639.88,111.99 Z M673.05,614.70 L673.55,611.60 A1.30,1.30 0 0 0 670.95,611.60 L671.45,614.70 Z M672.42,615.48 L676.43,615.14 A1.30,1.30 0 0 0 675.89,612.60 L672.08,613.92 Z M672.42,613.92 L668.61,612.60 A1.30,1.30 0 0 0 668.07,615.14 L672.08,615.48 Z M671.62,615.19 L673.13,617.94 A1.30,1.30 0 0 0 675.18,616.34 L672.88,614.21 Z M671.62,614.21 L669.32,616.34 A1.30,1.30 0 0 0 671.37,617.94 L672.88,615.19 Z M659.65,614.70 L660.15,611.60 A1.30,1.30 0 0 0 657.55,611.60 L658.05,614.70 Z M659.02,615.48 L663.03,615.14 A1.30,1.30 0 0 0 662.49,612.60 L658.68,613.92 Z M659.02,613.92 L655.21,612.60 A1.30,1.30 0 0 0 654.67,615.14 L658.68,615.48 Z M658.22,615.19 L659.73,617.94 A1.30,1.30 0 0 0 661.78,616.34 L659.48,614.21 Z M658.22,614.21 L655.92,616.34 A1.30,1.30 0 0 0 657.97,617.94 L659.48,615.19 Z M646.25,614.70 L646.75,611.60 A1.30,1.30 0 0 0 644.15,611.60 L644.65,614.70 Z M645.62,615.48 L649.63,615.14 A1.30,1.30 0 0 0 649.09,612.60 L645.28,613.92 Z M645.62,613.92 L641.81,612.60 A1.30,1.30 0 0 0 641.27,615.14 L645.28,615.48 Z M644.82,615.19 L646.33,617.94 A1.30,1.30 0 0 0 648.38,616.34 L646.08,614.21 Z M644.82,614.21 L642.52,616.34 A1.30,1.30 0 0 0 644.57,617.94 L646.08,615.19 Z M671.45,1100.70 L671.95,1097.60 A1.30,1.30 0 0 0 669.35,1097.60 L669.85,1100.70 Z M670.82,1101.48 L674.83,1101.14 A1.30,1.30 0 0 0 674.29,1098.60 L670.48,1099.92 Z M670.82,1099.92 L667.01,1098.60 A1.30,1.30 0 0 0 666.47,1101.14 L670.48,1101.48 Z M670.02,1101.19 L671.53,1103.94 A1.30,1.30 0 0 0 673.58,1102.34 L671.28,1100.21 Z M670.02,1100.21 L667.72,1102.34 A1.30,1.30 0 0 0 669.77,1103.94 L671.28,1101.19 Z M658.05,1100.70 L658.55,1097.60 A1.30,1.30 0 0 0 655.95,1097.60 L656.45,1100.70 Z M657.42,1101.48 L661.43,1101.14 A1.30,1.30 0 0 0 660.89,1098.60 L657.08,1099.92 Z M657.42,1099.92 L653.61,1098.60 A1.30,1.30 0 0 0 653.07,1101.14 L657.08,1101.48 Z M656.62,1101.19 L658.13,1103.94 A1.30,1.30 0 0 0 660.18,1102.34 L657.88,1100.21 Z M656.62,1100.21 L654.32,1102.34 A1.30,1.30 0 0 0 656.37,1103.94 L657.88,1101.19 Z M644.65,1100.70 L645.15,1097.60 A1.30,1.30 0 0 0 642.55,1097.60 L643.05,1100.70 Z M644.02,1101.48 L648.03,1101.14 A1.30,1.30 0 0 0 647.49,1098.60 L643.68,1099.92 Z M644.02,1099.92 L640.21,1098.60 A1.30,1.30 0 0 0 639.67,1101.14 L643.68,1101.48 Z M643.22,1101.19 L644.73,1103.94 A1.30,1.30 0 0 0 646.78,1102.34 L644.48,1100.21 Z M643.22,1100.21 L640.92,1102.34 A1.30,1.30 0 0 0 642.97,1103.94 L644.48,1101.19 Z M671.45,1133.80 L671.95,1130.70 A1.30,1.30 0 0 0 669.35,1130.70 L669.85,1133.80 Z M670.82,1134.58 L674.83,1134.24 A1.30,1.30 0 0 0 674.29,1131.70 L670.48,1133.02 Z M670.82,1133.02 L667.01,1131.70 A1.30,1.30 0 0 0 666.47,1134.24 L670.48,1134.58 Z M670.02,1134.29 L671.53,1137.04 A1.30,1.30 0 0 0 673.58,1135.44 L671.28,1133.31 Z M670.02,1133.31 L667.72,1135.44 A1.30,1.30 0 0 0 669.77,1137.04 L671.28,1134.29 Z M658.05,1133.80 L658.55,1130.70 A1.30,1.30 0 0 0 655.95,1130.70 L656.45,1133.80 Z M657.42,1134.58 L661.43,1134.24 A1.30,1.30 0 0 0 660.89,1131.70 L657.08,1133.02 Z M657.42,1133.02 L653.61,1131.70 A1.30,1.30 0 0 0 653.07,1134.24 L657.08,1134.58 Z M656.62,1134.29 L658.13,1137.04 A1.30,1.30 0 0 0 660.18,1135.44 L657.88,1133.31 Z M656.62,1133.31 L654.32,1135.44 A1.30,1.30 0 0 0 656.37,1137.04 L657.88,1134.29 Z M644.65,1133.80 L645.15,1130.70 A1.30,1.30 0 0 0 642.55,1130.70 L643.05,1133.80 Z M644.02,1134.58 L648.03,1134.24 A1.30,1.30 0 0 0 647.49,1131.70 L643.68,1133.02 Z M644.02,1133.02 L640.21,1131.70 A1.30,1.30 0 0 0 639.67,1134.24 L643.68,1134.58 Z M643.22,1134.29 L644.73,1137.04 A1.30,1.30 0 0 0 646.78,1135.44 L644.48,1133.31 Z M643.22,1133.31 L640.92,1135.44 A1.30,1.30 0 0 0 642.97,1137.04 L644.48,1134.29 Z M668.05,1668.30 L668.55,1665.20 A1.30,1.30 0 0 0 665.95,1665.20 L666.45,1668.30 Z M667.42,1669.08 L671.43,1668.74 A1.30,1.30 0 0 0 670.89,1666.20 L667.08,1667.52 Z M667.42,1667.52 L663.61,1666.20 A1.30,1.30 0 0 0 663.07,1668.74 L667.08,1669.08 Z M666.62,1668.79 L668.13,1671.54 A1.30,1.30 0 0 0 670.18,1669.94 L667.88,1667.81 Z M666.62,1667.81 L664.32,1669.94 A1.30,1.30 0 0 0 666.37,1671.54 L667.88,1668.79 Z M654.65,1668.30 L655.15,1665.20 A1.30,1.30 0 0 0 652.55,1665.20 L653.05,1668.30 Z M654.02,1669.08 L658.03,1668.74 A1.30,1.30 0 0 0 657.49,1666.20 L653.68,1667.52 Z M654.02,1667.52 L650.21,1666.20 A1.30,1.30 0 0 0 649.67,1668.74 L653.68,1669.08 Z M653.22,1668.79 L654.73,1671.54 A1.30,1.30 0 0 0 656.78,1669.94 L654.48,1667.81 Z M653.22,1667.81 L650.92,1669.94 A1.30,1.30 0 0 0 652.97,1671.54 L654.48,1668.79 Z M641.25,1668.30 L641.75,1665.20 A1.30,1.30 0 0 0 639.15,1665.20 L639.65,1668.30 Z M640.62,1669.08 L644.63,1668.74 A1.30,1.30 0 0 0 644.09,1666.20 L640.28,1667.52 Z M640.62,1667.52 L636.81,1666.20 A1.30,1.30 0 0 0 636.27,1668.74 L640.28,1669.08 Z M639.82,1668.79 L641.33,1671.54 A1.30,1.30 0 0 0 643.38,1669.94 L641.08,1667.81 Z M639.82,1667.81 L637.52,1669.94 A1.30,1.30 0 0 0 639.57,1671.54 L641.08,1668.79 Z M668.05,1700.70 L668.55,1697.60 A1.30,1.30 0 0 0 665.95,1697.60 L666.45,1700.70 Z M667.42,1701.48 L671.43,1701.14 A1.30,1.30 0 0 0 670.89,1698.60 L667.08,1699.92 Z M667.42,1699.92 L663.61,1698.60 A1.30,1.30 0 0 0 663.07,1701.14 L667.08,1701.48 Z M666.62,1701.19 L668.13,1703.94 A1.30,1.30 0 0 0 670.18,1702.34 L667.88,1700.21 Z M666.62,1700.21 L664.32,1702.34 A1.30,1.30 0 0 0 666.37,1703.94 L667.88,1701.19 Z M654.65,1700.70 L655.15,1697.60 A1.30,1.30 0 0 0 652.55,1697.60 L653.05,1700.70 Z M654.02,1701.48 L658.03,1701.14 A1.30,1.30 0 0 0 657.49,1698.60 L653.68,1699.92 Z M654.02,1699.92 L650.21,1698.60 A1.30,1.30 0 0 0 649.67,1701.14 L653.68,1701.48 Z M653.22,1701.19 L654.73,1703.94 A1.30,1.30 0 0 0 656.78,1702.34 L654.48,1700.21 Z M653.22,1700.21 L650.92,1702.34 A1.30,1.30 0 0 0 652.97,1703.94 L654.48,1701.19 Z M641.25,1700.70 L641.75,1697.60 A1.30,1.30 0 0 0 639.15,1697.60 L639.65,1700.70 Z M640.62,1701.48 L644.63,1701.14 A1.30,1.30 0 0 0 644.09,1698.60 L640.28,1699.92 Z M640.62,1699.92 L636.81,1698.60 A1.30,1.30 0 0 0 636.27,1701.14 L640.28,1701.48 Z M639.82,1701.19 L641.33,1703.94 A1.30,1.30 0 0 0 643.38,1702.34 L641.08,1700.21 Z M639.82,1700.21 L637.52,1702.34 A1.30,1.30 0 0 0 639.57,1703.94 L641.08,1701.19 Z M1357.95,113.20 L1358.45,110.10 A1.30,1.30 0 0 0 1355.85,110.10 L1356.35,113.20 Z M1357.32,113.98 L1361.33,113.64 A1.30,1.30 0 0 0 1360.79,111.10 L1356.98,112.42 Z M1357.32,112.42 L1353.51,111.10 A1.30,1.30 0 0 0 1352.97,113.64 L1356.98,113.98 Z M1356.52,113.69 L1358.03,116.44 A1.30,1.30 0 0 0 1360.08,114.84 L1357.78,112.71 Z M1356.52,112.71 L1354.22,114.84 A1.30,1.30 0 0 0 1356.27,116.44 L1357.78,113.69 Z M1344.55,113.20 L1345.05,110.10 A1.30,1.30 0 0 0 1342.45,110.10 L1342.95,113.20 Z M1343.92,113.98 L1347.93,113.64 A1.30,1.30 0 0 0 1347.39,111.10 L1343.58,112.42 Z M1343.92,112.42 L1340.11,111.10 A1.30,1.30 0 0 0 1339.57,113.64 L1343.58,113.98 Z M1343.12,113.69 L1344.63,116.44 A1.30,1.30 0 0 0 1346.68,114.84 L1344.38,112.71 Z M1343.12,112.71 L1340.82,114.84 A1.30,1.30 0 0 0 1342.87,116.44 L1344.38,113.69 Z M1331.15,113.20 L1331.65,110.10 A1.30,1.30 0 0 0 1329.05,110.10 L1329.55,113.20 Z M1330.52,113.98 L1334.53,113.64 A1.30,1.30 0 0 0 1333.99,111.10 L1330.18,112.42 Z M1330.52,112.42 L1326.71,111.10 A1.30,1.30 0 0 0 1326.17,113.64 L1330.18,113.98 Z M1329.72,113.69 L1331.23,116.44 A1.30,1.30 0 0 0 1333.28,114.84 L1330.98,112.71 Z M1329.72,112.71 L1327.42,114.84 A1.30,1.30 0 0 0 1329.47,116.44 L1330.98,113.69 Z M1377.65,614.40 L1378.15,611.30 A1.30,1.30 0 0 0 1375.55,611.30 L1376.05,614.40 Z M1377.02,615.18 L1381.03,614.84 A1.30,1.30 0 0 0 1380.49,612.30 L1376.68,613.62 Z M1377.02,613.62 L1373.21,612.30 A1.30,1.30 0 0 0 1372.67,614.84 L1376.68,615.18 Z M1376.22,614.89 L1377.73,617.64 A1.30,1.30 0 0 0 1379.78,616.04 L1377.48,613.91 Z M1376.22,613.91 L1373.92,616.04 A1.30,1.30 0 0 0 1375.97,617.64 L1377.48,614.89 Z M1364.25,614.40 L1364.75,611.30 A1.30,1.30 0 0 0 1362.15,611.30 L1362.65,614.40 Z M1363.62,615.18 L1367.63,614.84 A1.30,1.30 0 0 0 1367.09,612.30 L1363.28,613.62 Z M1363.62,613.62 L1359.81,612.30 A1.30,1.30 0 0 0 1359.27,614.84 L1363.28,615.18 Z M1362.82,614.89 L1364.33,617.64 A1.30,1.30 0 0 0 1366.38,616.04 L1364.08,613.91 Z M1362.82,613.91 L1360.52,616.04 A1.30,1.30 0 0 0 1362.57,617.64 L1364.08,614.89 Z M1350.85,614.40 L1351.35,611.30 A1.30,1.30 0 0 0 1348.75,611.30 L1349.25,614.40 Z M1350.22,615.18 L1354.23,614.84 A1.30,1.30 0 0 0 1353.69,612.30 L1349.88,613.62 Z M1350.22,613.62 L1346.41,612.30 A1.30,1.30 0 0 0 1345.87,614.84 L1349.88,615.18 Z M1349.42,614.89 L1350.93,617.64 A1.30,1.30 0 0 0 1352.98,616.04 L1350.68,613.91 Z M1349.42,613.91 L1347.12,616.04 A1.30,1.30 0 0 0 1349.17,617.64 L1350.68,614.89 Z M1371.35,1099.40 L1371.85,1096.30 A1.30,1.30 0 0 0 1369.25,1096.30 L1369.75,1099.40 Z M1370.72,1100.18 L1374.73,1099.84 A1.30,1.30 0 0 0 1374.19,1097.30 L1370.38,1098.62 Z M1370.72,1098.62 L1366.91,1097.30 A1.30,1.30 0 0 0 1366.37,1099.84 L1370.38,1100.18 Z M1369.92,1099.89 L1371.43,1102.64 A1.30,1.30 0 0 0 1373.48,1101.04 L1371.18,1098.91 Z M1369.92,1098.91 L1367.62,1101.04 A1.30,1.30 0 0 0 1369.67,1102.64 L1371.18,1099.89 Z M1357.95,1099.40 L1358.45,1096.30 A1.30,1.30 0 0 0 1355.85,1096.30 L1356.35,1099.40 Z M1357.32,1100.18 L1361.33,1099.84 A1.30,1.30 0 0 0 1360.79,1097.30 L1356.98,1098.62 Z M1357.32,1098.62 L1353.51,1097.30 A1.30,1.30 0 0 0 1352.97,1099.84 L1356.98,1100.18 Z M1356.52,1099.89 L1358.03,1102.64 A1.30,1.30 0 0 0 1360.08,1101.04 L1357.78,1098.91 Z M1356.52,1098.91 L1354.22,1101.04 A1.30,1.30 0 0 0 1356.27,1102.64 L1357.78,1099.89 Z M1371.35,1132.10 L1371.85,1129.00 A1.30,1.30 0 0 0 1369.25,1129.00 L1369.75,1132.10 Z M1370.72,1132.88 L1374.73,1132.54 A1.30,1.30 0 0 0 1374.19,1130.00 L1370.38,1131.32 Z M1370.72,1131.32 L1366.91,1130.00 A1.30,1.30 0 0 0 1366.37,1132.54 L1370.38,1132.88 Z M1369.92,1132.59 L1371.43,1135.34 A1.30,1.30 0 0 0 1373.48,1133.74 L1371.18,1131.61 Z M1369.92,1131.61 L1367.62,1133.74 A1.30,1.30 0 0 0 1369.67,1135.34 L1371.18,1132.59 Z M1357.95,1132.10 L1358.45,1129.00 A1.30,1.30 0 0 0 1355.85,1129.00 L1356.35,1132.10 Z M1357.32,1132.88 L1361.33,1132.54 A1.30,1.30 0 0 0 1360.79,1130.00 L1356.98,1131.32 Z M1357.32,1131.32 L1353.51,1130.00 A1.30,1.30 0 0 0 1352.97,1132.54 L1356.98,1132.88 Z M1356.52,1132.59 L1358.03,1135.34 A1.30,1.30 0 0 0 1360.08,1133.74 L1357.78,1131.61 Z M1356.52,1131.61 L1354.22,1133.74 A1.30,1.30 0 0 0 1356.27,1135.34 L1357.78,1132.59 Z M1406.95,1668.30 L1407.45,1665.20 A1.30,1.30 0 0 0 1404.85,1665.20 L1405.35,1668.30 Z M1406.32,1669.08 L1410.33,1668.74 A1.30,1.30 0 0 0 1409.79,1666.20 L1405.98,1667.52 Z M1406.32,1667.52 L1402.51,1666.20 A1.30,1.30 0 0 0 1401.97,1668.74 L1405.98,1669.08 Z M1405.52,1668.79 L1407.03,1671.54 A1.30,1.30 0 0 0 1409.08,1669.94 L1406.78,1667.81 Z M1405.52,1667.81 L1403.22,1669.94 A1.30,1.30 0 0 0 1405.27,1671.54 L1406.78,1668.79 Z M1393.55,1668.30 L1394.05,1665.20 A1.30,1.30 0 0 0 1391.45,1665.20 L1391.95,1668.30 Z M1392.92,1669.08 L1396.93,1668.74 A1.30,1.30 0 0 0 1396.39,1666.20 L1392.58,1667.52 Z M1392.92,1667.52 L1389.11,1666.20 A1.30,1.30 0 0 0 1388.57,1668.74 L1392.58,1669.08 Z M1392.12,1668.79 L1393.63,1671.54 A1.30,1.30 0 0 0 1395.68,1669.94 L1393.38,1667.81 Z M1392.12,1667.81 L1389.82,1669.94 A1.30,1.30 0 0 0 1391.87,1671.54 L1393.38,1668.79 Z M1380.15,1668.30 L1380.65,1665.20 A1.30,1.30 0 0 0 1378.05,1665.20 L1378.55,1668.30 Z M1379.52,1669.08 L1383.53,1668.74 A1.30,1.30 0 0 0 1382.99,1666.20 L1379.18,1667.52 Z M1379.52,1667.52 L1375.71,1666.20 A1.30,1.30 0 0 0 1375.17,1668.74 L1379.18,1669.08 Z M1378.72,1668.79 L1380.23,1671.54 A1.30,1.30 0 0 0 1382.28,1669.94 L1379.98,1667.81 Z M1378.72,1667.81 L1376.42,1669.94 A1.30,1.30 0 0 0 1378.47,1671.54 L1379.98,1668.79 Z M1406.95,1700.70 L1407.45,1697.60 A1.30,1.30 0 0 0 1404.85,1697.60 L1405.35,1700.70 Z M1406.32,1701.48 L1410.33,1701.14 A1.30,1.30 0 0 0 1409.79,1698.60 L1405.98,1699.92 Z M1406.32,1699.92 L1402.51,1698.60 A1.30,1.30 0 0 0 1401.97,1701.14 L1405.98,1701.48 Z M1405.52,1701.19 L1407.03,1703.94 A1.30,1.30 0 0 0 1409.08,1702.34 L1406.78,1700.21 Z M1405.52,1700.21 L1403.22,1702.34 A1.30,1.30 0 0 0 1405.27,1703.94 L1406.78,1701.19 Z M1393.55,1700.70 L1394.05,1697.60 A1.30,1.30 0 0 0 1391.45,1697.60 L1391.95,1700.70 Z M1392.92,1701.48 L1396.93,1701.14 A1.30,1.30 0 0 0 1396.39,1698.60 L1392.58,1699.92 Z M1392.92,1699.92 L1389.11,1698.60 A1.30,1.30 0 0 0 1388.57,1701.14 L1392.58,1701.48 Z M1392.12,1701.19 L1393.63,1703.94 A1.30,1.30 0 0 0 1395.68,1702.34 L1393.38,1700.21 Z M1392.12,1700.21 L1389.82,1702.34 A1.30,1.30 0 0 0 1391.87,1703.94 L1393.38,1701.19 Z M1380.15,1700.70 L1380.65,1697.60 A1.30,1.30 0 0 0 1378.05,1697.60 L1378.55,1700.70 Z M1379.52,1701.48 L1383.53,1701.14 A1.30,1.30 0 0 0 1382.99,1698.60 L1379.18,1699.92 Z M1379.52,1699.92 L1375.71,1698.60 A1.30,1.30 0 0 0 1375.17,1701.14 L1379.18,1701.48 Z M1378.72,1701.19 L1380.23,1703.94 A1.30,1.30 0 0 0 1382.28,1702.34 L1379.98,1700.21 Z M1378.72,1700.21 L1376.42,1702.34 A1.30,1.30 0 0 0 1378.47,1703.94 L1379.98,1701.19 Z M667.65,1733.00 L668.15,1729.90 A1.30,1.30 0 0 0 665.55,1729.90 L666.05,1733.00 Z M667.02,1733.78 L671.03,1733.44 A1.30,1.30 0 0 0 670.49,1730.90 L666.68,1732.22 Z M667.02,1732.22 L663.21,1730.90 A1.30,1.30 0 0 0 662.67,1733.44 L666.68,1733.78 Z M666.22,1733.49 L667.73,1736.24 A1.30,1.30 0 0 0 669.78,1734.64 L667.48,1732.51 Z M666.22,1732.51 L663.92,1734.64 A1.30,1.30 0 0 0 665.97,1736.24 L667.48,1733.49 Z M654.25,1733.00 L654.75,1729.90 A1.30,1.30 0 0 0 652.15,1729.90 L652.65,1733.00 Z M653.62,1733.78 L657.63,1733.44 A1.30,1.30 0 0 0 657.09,1730.90 L653.28,1732.22 Z M653.62,1732.22 L649.81,1730.90 A1.30,1.30 0 0 0 649.27,1733.44 L653.28,1733.78 Z M652.82,1733.49 L654.33,1736.24 A1.30,1.30 0 0 0 656.38,1734.64 L654.08,1732.51 Z M652.82,1732.51 L650.52,1734.64 A1.30,1.30 0 0 0 652.57,1736.24 L654.08,1733.49 Z M640.85,1733.00 L641.35,1729.90 A1.30,1.30 0 0 0 638.75,1729.90 L639.25,1733.00 Z M640.22,1733.78 L644.23,1733.44 A1.30,1.30 0 0 0 643.69,1730.90 L639.88,1732.22 Z M640.22,1732.22 L636.41,1730.90 A1.30,1.30 0 0 0 635.87,1733.44 L639.88,1733.78 Z M639.42,1733.49 L640.93,1736.24 A1.30,1.30 0 0 0 642.98,1734.64 L640.68,1732.51 Z M639.42,1732.51 L637.12,1734.64 A1.30,1.30 0 0 0 639.17,1736.24 L640.68,1733.49 Z" fill="#000"/>
<path d="M559.80,1727.80 L576.70,1742.60 M576.70,1727.80 L559.80,1742.60" stroke="#000" stroke-width="1.6" fill="none"/>
<text transform="translate(101.00,130.50)" font-size="34.00" text-anchor="end" font-weight="bold" font-style="normal">2.4</text>
<text transform="translate(101.00,269.10)" font-size="34.00" text-anchor="end" font-weight="bold" font-style="normal">1.6</text>
<text transform="translate(101.00,406.80)" font-size="34.00" text-anchor="end" font-weight="bold" font-style="normal">0.8</text>
<text transform="translate(101.00,544.50)" font-size="34.00" text-anchor="end" font-weight="bold" font-style="normal">0.0</text>
<text transform="translate(103.80,627.00) scale(0.9750,1)" font-size="31.20" text-anchor="end" font-weight="bold" font-style="normal">0.9</text>
<text transform="translate(103.80,769.70) scale(0.9750,1)" font-size="31.20" text-anchor="end" font-weight="bold" font-style="normal">0.6</text>
<text transform="translate(103.80,912.00) scale(0.9750,1)" font-size="31.20" text-anchor="end" font-weight="bold" font-style="normal">0.3</text>
<text transform="translate(103.80,1053.50) scale(0.9750,1)" font-size="31.20" text-anchor="end" font-weight="bold" font-style="normal">0</text>
<text transform="translate(101.10,1150.20)" font-size="34.00" text-anchor="end" font-weight="bold" font-style="normal">3.0</text>
<text transform="translate(101.10,1290.70)" font-size="34.00" text-anchor="end" font-weight="bold" font-style="normal">2.0</text>
<text transform="translate(101.10,1432.20)" font-size="34.00" text-anchor="end" font-weight="bold" font-style="normal">1.0</text>
<text transform="translate(101.10,1573.20)" font-size="34.00" text-anchor="end" font-weight="bold" font-style="normal">0.0</text>
<text transform="translate(104.10,1662.90) scale(0.9750,1)" font-size="31.20" text-anchor="end" font-weight="bold" font-style="normal">0.4</text>
<text transform="translate(104.10,1769.20) scale(0.9750,1)" font-size="31.20" text-anchor="end" font-weight="bold" font-style="normal">0.3</text>
<text transform="translate(104.10,1875.80) scale(0.9750,1)" font-size="31.20" text-anchor="end" font-weight="bold" font-style="normal">0.2</text>
<text transform="translate(105.10,1982.10) scale(0.9750,1)" font-size="31.20" text-anchor="end" font-weight="bold" font-style="normal">0.1</text>
<text transform="translate(104.10,2088.90) scale(0.9750,1)" font-size="31.20" text-anchor="end" font-weight="bold" font-style="normal">0</text>
<text transform="translate(806.50,118.60)" font-size="34.00" text-anchor="end" font-weight="bold" font-style="normal">2.4</text>
<text transform="translate(806.50,261.20)" font-size="34.00" text-anchor="end" font-weight="bold" font-style="normal">1.6</text>
<text transform="translate(806.50,403.80)" font-size="34.00" text-anchor="end" font-weight="bold" font-style="normal">0.8</text>
<text transform="translate(806.50,546.10)" font-size="34.00" text-anchor="end" font-weight="bold" font-style="normal">0.0</text>
<text transform="translate(809.90,631.00) scale(0.9750,1)" font-size="31.20" text-anchor="end" font-weight="bold" font-style="normal">0.9</text>
<text transform="translate(809.90,772.00) scale(0.9750,1)" font-size="31.20" text-anchor="end" font-weight="bold" font-style="normal">0.6</text>
<text transform="translate(809.90,912.50) scale(0.9750,1)" font-size="31.20" text-anchor="end" font-weight="bold" font-style="normal">0.3</text>
<text transform="translate(809.90,1053.50) scale(0.9750,1)" font-size="31.20" text-anchor="end" font-weight="bold" font-style="normal">0</text>
<text transform="translate(806.90,1156.00)" font-size="34.00" text-anchor="end" font-weight="bold" font-style="normal">3.0</text>
<text transform="translate(806.90,1296.30)" font-size="34.00" text-anchor="end" font-weight="bold" font-style="normal">2.0</text>
<text transform="translate(806.90,1436.00)" font-size="34.00" text-anchor="end" font-weight="bold" font-style="normal">1.0</text>
<text transform="translate(806.90,1575.80)" font-size="34.00" text-anchor="end" font-weight="bold" font-style="normal">0.0</text>
<text transform="translate(809.40,1666.30) scale(0.9750,1)" font-size="31.20" text-anchor="end" font-weight="bold" font-style="normal">0.4</text>
<text transform="translate(809.40,1771.30) scale(0.9750,1)" font-size="31.20" text-anchor="end" font-weight="bold" font-style="normal">0.3</text>
<text transform="translate(809.40,1877.60) scale(0.9750,1)" font-size="31.20" text-anchor="end" font-weight="bold" font-style="normal">0.2</text>
<text transform="translate(810.40,1982.60) scale(0.9750,1)" font-size="31.20" text-anchor="end" font-weight="bold" font-style="normal">0.1</text>
<text transform="translate(809.40,2088.90) scale(0.9750,1)" font-size="31.20" text-anchor="end" font-weight="bold" font-style="normal">0</text>
<text transform="translate(180.15,159.00)" font-size="34.50" text-anchor="middle" font-weight="bold" font-style="normal">(A)</text>
<text transform="translate(176.50,663.50)" font-size="34.50" text-anchor="middle" font-weight="bold" font-style="normal">(B)</text>
<text transform="translate(176.70,1180.60)" font-size="34.50" text-anchor="middle" font-weight="bold" font-style="normal">(C)</text>
<text transform="translate(175.15,1693.75)" font-size="34.50" text-anchor="middle" font-weight="bold" font-style="normal">(D)</text>
<text transform="translate(880.85,145.95)" font-size="34.50" text-anchor="middle" font-weight="bold" font-style="normal">(E)</text>
<text transform="translate(883.35,662.05)" font-size="34.50" text-anchor="middle" font-weight="bold" font-style="normal">(F)</text>
<text transform="translate(884.00,1187.75)" font-size="34.50" text-anchor="middle" font-weight="bold" font-style="normal">(G)</text>
<text transform="translate(884.60,1709.00)" font-size="34.50" text-anchor="middle" font-weight="bold" font-style="normal">(H)</text>
<text transform="translate(632.40,124.00) scale(0.9800,1)" font-size="28.00" text-anchor="end" font-weight="bold" font-style="normal">CO<tspan font-size="0.65em" dy="0.27em">2</tspan></text>
<text transform="translate(633.00,628.20) scale(0.9800,1)" font-size="28.00" text-anchor="end" font-weight="bold" font-style="normal">Time</text>
<text transform="translate(631.40,1114.20) scale(0.9800,1)" font-size="28.00" text-anchor="end" font-weight="bold" font-style="normal">Time</text>
<text transform="translate(637.00,1146.30) scale(0.9800,1)" font-size="28.00" text-anchor="end" font-weight="bold" font-style="normal">CO<tspan font-size="0.65em" dy="0.27em">2</tspan></text>
<text transform="translate(628.00,1681.80) scale(0.9800,1)" font-size="28.00" text-anchor="end" font-weight="bold" font-style="normal">Time</text>
<text transform="translate(633.60,1713.20) scale(0.9800,1)" font-size="28.00" text-anchor="end" font-weight="bold" font-style="normal">CO<tspan font-size="0.65em" dy="0.27em">2</tspan></text>
<text transform="translate(1323.50,125.70) scale(0.9800,1)" font-size="28.00" text-anchor="end" font-weight="bold" font-style="normal">CO<tspan font-size="0.65em" dy="0.27em">2</tspan></text>
<text transform="translate(1337.60,627.90) scale(0.9800,1)" font-size="28.00" text-anchor="end" font-weight="bold" font-style="normal">Time</text>
<text transform="translate(1344.70,1112.90) scale(0.9800,1)" font-size="28.00" text-anchor="end" font-weight="bold" font-style="normal">Time</text>
<text transform="translate(1350.30,1144.60) scale(0.9800,1)" font-size="28.00" text-anchor="end" font-weight="bold" font-style="normal">CO<tspan font-size="0.65em" dy="0.27em">2</tspan></text>
<text transform="translate(1366.90,1681.80) scale(0.9800,1)" font-size="28.00" text-anchor="end" font-weight="bold" font-style="normal">Time</text>
<text transform="translate(1372.50,1713.20) scale(0.9800,1)" font-size="28.00" text-anchor="end" font-weight="bold" font-style="normal">CO<tspan font-size="0.65em" dy="0.27em">2</tspan></text>
<text transform="translate(550.90,1746.00) scale(0.9800,1)" font-size="28.00" text-anchor="end" font-weight="bold" font-style="normal">Time</text>
<text transform="translate(633.50,1745.00) scale(0.9800,1)" font-size="28.00" text-anchor="end" font-weight="bold" font-style="normal">CO<tspan font-size="0.65em" dy="0.27em">2</tspan></text>
<text transform="translate(271.75,2128.30)" font-size="32.00" text-anchor="middle" font-weight="bold" font-style="normal">3</text>
<text transform="translate(555.75,2128.30)" font-size="32.00" text-anchor="middle" font-weight="bold" font-style="normal">6</text>
<text transform="translate(975.85,2128.30)" font-size="32.00" text-anchor="middle" font-weight="bold" font-style="normal">3</text>
<text transform="translate(1260.30,2128.30)" font-size="32.00" text-anchor="middle" font-weight="bold" font-style="normal">6</text>
<text transform="translate(413.95,2181.10)" font-size="33.50" text-anchor="middle" font-weight="bold" font-style="normal">week</text>
<text transform="translate(1126.35,2181.10)" font-size="33.50" text-anchor="middle" font-weight="bold" font-style="normal">week</text>
<text transform="translate(33.00,320.75) rotate(-90) scale(0.9292,1)" font-size="38.00" text-anchor="middle" font-weight="bold" font-style="normal">Chl a (mg·g<tspan font-size="0.64em" dy="-10.5">-1</tspan><tspan dy="10.5"> F.W)</tspan></text>
<text transform="translate(36.45,828.85) rotate(-90) scale(0.9363,1)" font-size="36.00" text-anchor="middle" font-weight="bold" font-style="normal">Chl b (mg·g<tspan font-size="0.64em" dy="-10.5">-1</tspan><tspan dy="10.5"> F.W)</tspan></text>
<text transform="translate(50.35,1359.08) rotate(-90) scale(0.9605,1)" font-size="36.00" text-anchor="middle" font-weight="bold" font-style="normal">Total Chl (mg • g<tspan font-size="0.64em" dy="-10.5">-1</tspan><tspan dy="10.5"> F.W)</tspan></text>
<text transform="translate(49.50,1865.30) rotate(-90) scale(0.9403,1)" font-size="36.00" text-anchor="middle" font-weight="bold" font-style="normal">Car (mg·g<tspan font-size="0.64em" dy="-10.5">-1</tspan><tspan dy="10.5"> F.W)</tspan></text>
<text transform="translate(735.55,316.65) rotate(-90) scale(0.9337,1)" font-size="36.00" text-anchor="middle" font-weight="bold" font-style="normal">Chl a (mg·g<tspan font-size="0.64em" dy="-10.5">-1</tspan><tspan dy="10.5"> F.W)</tspan></text>
<text transform="translate(757.40,839.65) rotate(-90) scale(0.9574,1)" font-size="36.00" text-anchor="middle" font-weight="bold" font-style="normal">Chl b (mg • g<tspan font-size="0.64em" dy="-10.5">-1</tspan><tspan dy="10.5"> F.W)</tspan></text>
<text transform="translate(747.50,1355.70) rotate(-90) scale(0.9614,1)" font-size="36.00" text-anchor="middle" font-weight="bold" font-style="normal">Total Chl (mg • g<tspan font-size="0.64em" dy="-10.5">-1</tspan><tspan dy="10.5"> F.W)</tspan></text>
<text transform="translate(754.50,1867.30) rotate(-90) scale(0.9411,1)" font-size="36.00" text-anchor="middle" font-weight="bold" font-style="normal">Car (mg·g<tspan font-size="0.64em" dy="-10.5">-1</tspan><tspan dy="10.5"> F.W)</tspan></text>
<text transform="translate(375.30,29.70)" font-size="35.20" text-anchor="middle" font-weight="bold" font-style="italic">Pinus koraiensis</text>
<text transform="translate(1120.60,30.30)" font-size="35.20" text-anchor="middle" font-weight="bold" font-style="italic">Chamaecyparis obtusa</text>
<text transform="translate(276.80,70.80) scale(0.9800,1)" font-size="36.00" text-anchor="start" font-weight="bold" font-style="normal">aCO<tspan font-size="0.55em">2</tspan></text>
<text transform="translate(428.40,70.80) scale(0.9800,1)" font-size="36.00" text-anchor="start" font-weight="bold" font-style="normal">eCO<tspan font-size="0.55em">2</tspan></text>
<text transform="translate(1016.80,77.20) scale(0.9800,1)" font-size="36.00" text-anchor="start" font-weight="bold" font-style="normal">aCO<tspan font-size="0.55em">2</tspan></text>
<text transform="translate(1159.40,77.20) scale(0.9800,1)" font-size="36.00" text-anchor="start" font-weight="bold" font-style="normal">eCO<tspan font-size="0.55em">2</tspan></text>
</svg>
</body></html>
